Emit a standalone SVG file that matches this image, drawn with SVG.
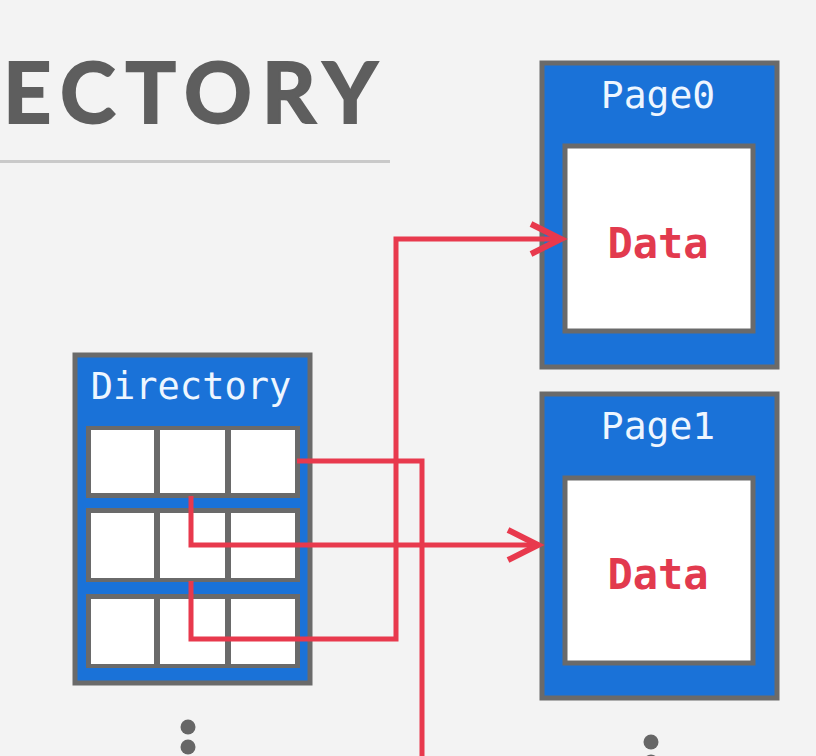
<svg xmlns="http://www.w3.org/2000/svg" width="816" height="756" viewBox="0 0 816 756">
<style>
.bg{fill:#f3f3f3}
.box{fill:#1a72d8;stroke:#6a6a6a;stroke-width:5}
.frame{fill:#6a6a6a}
.cell{fill:#ffffff}
.inner{fill:#ffffff;stroke:#6a6a6a;stroke-width:5}
.hdr{font-family:"DejaVu Sans Mono","Liberation Mono",monospace;fill:#eef6ff;text-anchor:middle}
.data{font-family:"DejaVu Sans Mono","Liberation Mono",monospace;font-weight:bold;fill:#e23a4e;text-anchor:middle;font-size:42px}
.wire{fill:none;stroke:#e8394d;stroke-width:5;stroke-linejoin:miter}
.dot{fill:#666666}
</style>
<defs>
<marker id="arr" markerUnits="userSpaceOnUse" markerWidth="40" markerHeight="40" refX="32" refY="17" orient="auto" viewBox="0 0 40 34">
<path d="M2,2 L32,17 L2,32" fill="none" stroke="#e8394d" stroke-width="6" stroke-linejoin="miter"/>
</marker>
</defs>
<rect class="bg" x="0" y="0" width="816" height="756"/>
<g id="title">
<text x="3" y="123" font-family="Lato,'Open Sans',sans-serif" font-weight="700" font-size="84" letter-spacing="10" fill="#5e5e5e" stroke="#5e5e5e" stroke-width="2">ECTORY</text>
<rect x="0" y="160" width="390" height="3" fill="#c9c9c9"/>
</g>
<g id="directory">
<rect class="box" x="75" y="355" width="235" height="328"/>
<text class="hdr" x="191" y="399" font-size="37">Directory</text>
<rect class="frame" x="86" y="426" width="214" height="72"/>
<rect class="cell" x="91" y="430" width="63" height="63"/>
<rect class="cell" x="160" y="430" width="65" height="63"/>
<rect class="cell" x="231" y="430" width="64" height="63"/>
<rect class="frame" x="86" y="508" width="214" height="74"/>
<rect class="cell" x="91" y="513" width="63" height="65"/>
<rect class="cell" x="160" y="513" width="65" height="65"/>
<rect class="cell" x="231" y="513" width="64" height="65"/>
<rect class="frame" x="86" y="594" width="214" height="74"/>
<rect class="cell" x="91" y="599" width="63" height="65"/>
<rect class="cell" x="160" y="599" width="65" height="65"/>
<rect class="cell" x="231" y="599" width="64" height="65"/>
</g>
<g id="page0">
<rect class="box" x="542" y="63" width="235" height="304"/>
<text class="hdr" x="658" y="108" font-size="38">Page0</text>
<rect class="inner" x="565" y="146" width="188" height="185"/>
<text class="data" x="658" y="258">Data</text>
</g>
<g id="page1">
<rect class="box" x="542" y="394" width="235" height="304"/>
<text class="hdr" x="658" y="439" font-size="38">Page1</text>
<rect class="inner" x="565" y="478" width="188" height="185"/>
<text class="data" x="658" y="589">Data</text>
</g>
<g id="connectors">
<path class="wire" d="M297,461 H422 V760"/>
<path class="wire" d="M191,496 V545 H538" marker-end="url(#arr)"/>
<path class="wire" d="M191,581 V639 H396 V239 H561" marker-end="url(#arr)"/>
</g>
<g id="ellipsis">
<circle class="dot" cx="188" cy="727" r="7.5"/>
<circle class="dot" cx="188" cy="747" r="7.5"/>
<circle class="dot" cx="651" cy="742" r="7.5"/>
<circle class="dot" cx="651" cy="762" r="7.5"/>
</g>
</svg>
